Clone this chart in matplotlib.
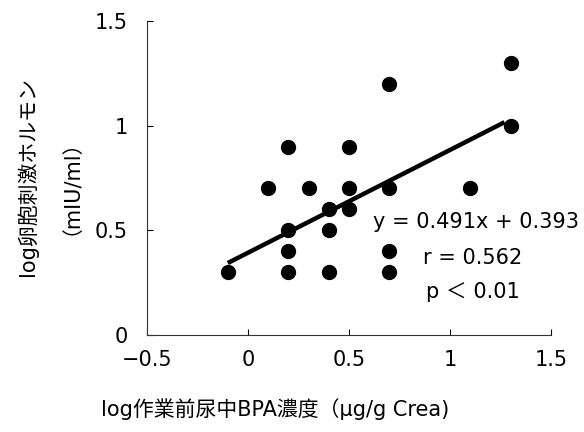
import matplotlib
matplotlib.use('Agg')
import matplotlib.pyplot as plt
import numpy as np

# Latin glyphs from DejaVu (wide, like the original Gothic), CJK from Noto
plt.rcParams['font.family'] = ['DejaVu Sans', 'Noto Sans CJK JP']

# log 作業前尿中BPA濃度 vs log 卵胞刺激ホルモン
bpa = [-0.1, 0.2, 0.2, 0.2, 0.2, 0.1, 0.3, 0.4, 0.4, 0.4,
       0.5, 0.5, 0.5, 0.7, 0.7, 0.7, 0.7, 1.1, 1.3, 1.3]
fsh = [0.3, 0.3, 0.4, 0.5, 0.9, 0.7, 0.7, 0.6, 0.5, 0.3,
       0.9, 0.7, 0.6, 1.2, 0.7, 0.4, 0.3, 0.7, 1.3, 1.0]
slope, intercept = 0.491, 0.393
fit_x = [-0.1, 1.27]

fig = plt.figure(figsize=(5.84, 4.32), dpi=100)
ax = fig.add_axes([0.2517, 0.2245, 0.6918, 0.7269])

ax.plot(bpa, fsh, 'o', color='black', markersize=10, zorder=3)
fx = np.array(fit_x)
ax.plot(fx, slope * fx + intercept, color='black', linewidth=3.2,
        solid_capstyle='butt', zorder=2)

ax.set_xlim(-0.5, 1.5)
ax.set_ylim(0, 1.5)
ax.set_xticks([-0.5, 0, 0.5, 1, 1.5])
ax.set_xticklabels(['−0.5', '0', '0.5', '1', '1.5'])
ax.set_yticks([0, 0.5, 1, 1.5])
ax.set_yticklabels(['0', '0.5', '1', '1.5'])
ax.tick_params(direction='in', length=4, labelsize=15)
ax.tick_params(axis='x', pad=11)
ax.tick_params(axis='y', pad=14)
for s in ('left', 'bottom'):
    ax.spines[s].set_color('#333333')
ax.spines['top'].set_visible(False)
ax.spines['right'].set_visible(False)

ax.text(0.619, 0.54, 'y = 0.491x + 0.393', fontsize=15, va='center',
        ha='left', clip_on=False)
ax.text(1.114, 0.368, 'r = 0.562', fontsize=15, va='center', ha='center')
ax.text(1.114, 0.205, 'p ＜ 0.01', fontsize=15, va='center', ha='center')

fig.text(0.047, 0.592, 'log卵胞刺激ホルモン', rotation=90, fontsize=15,
         ha='center', va='center')
fig.text(0.104, 0.592, '（mIU/ml）', rotation=90, fontsize=15,
         ha='center', va='center')
fig.text(0.471, 0.052, 'log作業前尿中BPA濃度（μg/g Crea)', fontsize=15,
         ha='center', va='center')

fig.savefig('out.png', dpi=100)
